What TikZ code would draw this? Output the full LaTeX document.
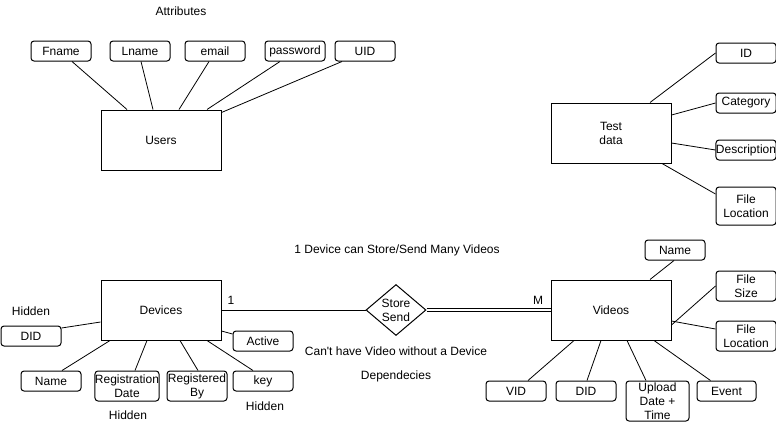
\documentclass[tikz,border=0pt]{standalone}
\usepackage{fontspec}
\setmainfont{Liberation Sans}[Ligatures=TeXOff]
\usetikzlibrary{shapes.geometric}
\begin{document}
\begin{tikzpicture}[x=1pt,y=-1pt,
  every node/.style={font=\fontsize{12}{14}\selectfont, inner sep=0pt, align=center},
  ent/.style={draw, line width=1pt, minimum width=120pt, minimum height=60pt},
  attr/.style={draw, line width=1pt, rounded corners=3pt, minimum width=60pt, minimum height=20pt},
  attrtwo/.style={attr, minimum height=30pt},
  rel/.style={draw, line width=1pt, diamond, aspect=1.18, minimum width=60pt, minimum height=51pt},
  conn/.style={line width=0.8pt},
  lbl/.style={}]
\useasboundingbox (0,0) rectangle (776,426);
% Users
\node[lbl] (attrs) at (181,11) {Attributes};
\node[ent] (users) at (161,140) {Users};
\node[attr] (fname) at (61,51) {Fname};
\node[attr] (lname) at (140,51) {Lname};
\node[attr] (email) at (215,51) {email};
\node[attr] (password) at (295,51) {password};
\node[attr] (uid) at (365,51) {UID};
\draw[conn] ([xshift=11]fname.south) -- ([xshift=-34]users.north);
\draw[conn] ([xshift=1]lname.south) -- ([xshift=-8]users.north);
\draw[conn] ([xshift=-6]email.south) -- ([xshift=18]users.north);
\draw[conn] ([xshift=-15]password.south) -- ([xshift=46]users.north);
\draw[conn] ([xshift=-23]uid.south) -- ([yshift=-3]users.north east);
% Test data
\node[ent] (test) at (611,133) {Test\\data};
\node[attr] (tid) at (746,53) {ID};
\node[attr] (cat) at (746,103) {Category};
\node[attr] (desc) at (746,150) {Description};
\node[attr, minimum height=38pt] (tfl) at (746,206) {File\\Location};
\draw[conn] (tid.west) -- ([xshift=39]test.north);
\draw[conn] (cat.west) -- ([yshift=18]test.east);
\draw[conn] (desc.west) -- ([yshift=-10]test.east);
\draw[conn] ([yshift=12]tfl.west) -- ([xshift=51]test.south);
% Devices
\node[ent] (dev) at (161,310) {Devices};
\node[lbl] (h1) at (31,311) {Hidden};
\node[attr] (did) at (31,336) {DID};
\node[attr] (active) at (263,341) {Active};
\node[attr] (dname) at (51,381) {Name};
\node[attrtwo] (regdate) at (127,386) {Registration\\Date};
\node[attrtwo] (regby) at (197,386) {Registered\\By};
\node[attr] (key) at (263,381) {key};
\node[lbl] (h2) at (128,415) {Hidden};
\node[lbl] (h3) at (265,406) {Hidden};
\draw[conn] ([yshift=8]did.east) -- ([yshift=-12]dev.west);
\draw[conn] ([yshift=7]active.west) -- ([yshift=-21]dev.east);
\draw[conn] ([xshift=11]dname.north) -- ([xshift=-51]dev.south);
\draw[conn] ([xshift=8]regdate.north) -- ([xshift=-14]dev.south);
\draw[conn] ([xshift=1]regby.north) -- ([xshift=19]dev.south);
\draw[conn] ([xshift=-10]key.north) -- ([xshift=46]dev.south);
% Relationship
\node[lbl] (t1) at (397,250) {1 Device can Store/Send Many Videos};
\node[rel] (store) at (396,310) {Store\\Send};
\node[lbl] (t2) at (396,351) {Can't have Video without a Device};
\node[lbl] (t3) at (396,376) {Dependecies};
\node[lbl] (one) at (231,300) {1};
\node[lbl] (many) at (538,300) {M};
% Videos
\node[ent] (videos) at (611,310) {Videos};
\node[attr] (vname) at (675,250) {Name};
\node[attrtwo] (fs) at (746,286) {File\\Size};
\node[attrtwo] (vfl) at (746,336) {File\\Location};
\node[attr] (vvid) at (516,391) {VID};
\node[attr] (vdid) at (586,391) {DID};
\node[attr, minimum width=63pt, minimum height=40pt] (upload) at (657.5,401) {Upload\\Date +\\Time};
\node[attr, minimum width=59pt] (event) at (726.5,391) {Event};
\draw[conn] (dev.east) -- (store.west);
\draw[line width=0.8pt, double, double distance=2.2pt] (store.east) -- (videos.west);
\draw[conn] ([xshift=-1]vname.south) -- ([xshift=39]videos.north);
\draw[conn] (fs.west) -- ([yshift=-15]videos.east);
\draw[conn] ([yshift=7]vfl.west) -- ([yshift=-11]videos.east);
\draw[conn] ([xshift=12]vvid.north) -- ([xshift=-37]videos.south);
\draw[conn] ([xshift=1]vdid.north) -- ([xshift=-10]videos.south);
\draw[conn] ([xshift=-11.5]upload.north) -- ([xshift=16]videos.south);
\draw[conn] ([xshift=-16]event.north) -- ([xshift=43]videos.south);
\end{tikzpicture}
\end{document}
